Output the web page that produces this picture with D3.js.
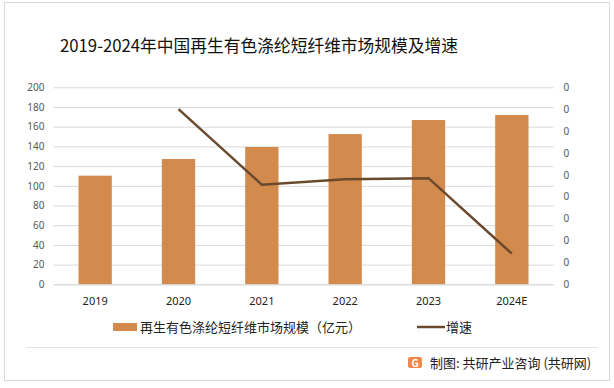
<!DOCTYPE html>
<html>
<head>
<meta charset="utf-8">
<script src="https://cdn.jsdelivr.net/npm/d3@7"></script>
<style>
  body { margin: 0; background: #fff; }
  svg { display: block; font-family: "Noto Sans CJK SC", "Noto Sans", sans-serif; }
</style>
</head>
<body>
<svg id="chart"></svg>
<script>
// 데이터
const years = ["2019", "2020", "2021", "2022", "2023", "2024E"];
const scale = [110.3, 127.2, 139.4, 152.5, 166.8, 171.9];   // 亿元
const growth = [null, 0.160, 0.091, 0.096, 0.097, 0.028];
const leftTicks = d3.range(0, 201, 20);
const rightTicks = d3.range(0, 0.181, 0.02);

const width = 614, height = 388;
const svg = d3.select("#chart").attr("width", width).attr("height", height);

// 바깥 테두리
svg.append("rect")
   .attr("x", 4.5).attr("y", 2.5)
   .attr("width", 605).attr("height", 378)
   .attr("fill", "#fff")
   .attr("stroke", "#d9d9d9");

// 제목
svg.append("text")
   .attr("x", 60).attr("y", 52)
   .attr("font-size", 17)
   .attr("textLength", 398)
   .attr("lengthAdjust", "spacingAndGlyphs")
   .attr("fill", "#111")
   .text("2019-2024年中国再生有色涤纶短纤维市场规模及增速");

const x = d3.scaleBand(years, [53.5, 553.5]).paddingInner(0.6).paddingOuter(0.3);
const yL = d3.scaleLinear([0, 200], [284.3, 87.3]);
const yR = d3.scaleLinear([0, 0.18], [284.3, 87.3]);

// 격자선 + 왼쪽 축
svg.append("g")
   .attr("transform", "translate(53.5,0)")
   .call(d3.axisLeft(yL).tickValues(leftTicks).tickSize(0).tickPadding(9))
   .call(g => g.select(".domain").remove())
   .call(g => g.selectAll(".tick line").attr("x2", 500).attr("stroke", "#d9d9d9"))
   .call(g => g.selectAll(".tick text").attr("fill", "#595959").attr("font-size", 10)
               .attr("font-family", "Noto Sans, sans-serif"));

// 오른쪽 축 (숫자 형식이 0으로 표시됨)
svg.append("g")
   .attr("transform", "translate(553.5,0)")
   .call(d3.axisRight(yR).tickValues(rightTicks).tickSize(0).tickPadding(10).tickFormat(d3.format(".0f")))
   .call(g => g.select(".domain").remove())
   .call(g => g.selectAll(".tick text").attr("fill", "#595959").attr("font-size", 10)
               .attr("font-family", "Noto Sans, sans-serif"));

// 막대
svg.append("g")
   .selectAll("rect")
   .data(years)
   .join("rect")
   .attr("x", d => x(d))
   .attr("y", (d, i) => yL(scale[i]))
   .attr("width", x.bandwidth())
   .attr("height", (d, i) => yL(0) - yL(scale[i]))
   .attr("fill", "#d38b4d");

// x축
svg.append("g")
   .attr("transform", "translate(0,284.3)")
   .call(d3.axisBottom(x).tickSize(0).tickPadding(13))
   .call(g => g.select(".domain").attr("stroke", "#d9d9d9"))
   .call(g => g.selectAll(".tick text").attr("fill", "#222").attr("font-size", 11)
               .attr("font-family", "Noto Sans, sans-serif"));

// 증속 선
const line = d3.line()
   .defined(d => d[1] != null)
   .x(d => x(d[0]) + x.bandwidth() / 2)
   .y(d => yR(d[1]));

svg.append("path")
   .datum(years.map((d, i) => [d, growth[i]]))
   .attr("d", line)
   .attr("fill", "none")
   .attr("stroke", "#6a4a2f")
   .attr("stroke-width", 2.5);

// 범례
const legend = svg.append("g").attr("font-size", 13).attr("fill", "#222");
legend.append("rect").attr("x", 113).attr("y", 323).attr("width", 24).attr("height", 8).attr("fill", "#d38b4d");
legend.append("text").attr("x", 140).attr("y", 332).attr("fill", "#222").text("再生有色涤纶短纤维市场规模（亿元）");
legend.append("line").attr("x1", 417).attr("x2", 445).attr("y1", 327).attr("y2", 327)
      .attr("stroke", "#6a4a2f").attr("stroke-width", 2.5);
legend.append("text").attr("x", 446).attr("y", 332).attr("fill", "#222").text("增速");

// 하단 구분선
svg.append("line")
   .attr("x1", 26).attr("x2", 598).attr("y1", 347.5).attr("y2", 347.5)
   .attr("stroke", "#e3e3e3");

// 출처 아이콘
const icon = svg.append("g").attr("transform", "translate(408,357)");
icon.append("rect").attr("width", 14).attr("height", 11).attr("rx", 2).attr("fill", "#f08a4b");
icon.append("text").attr("x", 7).attr("y", 9.5).attr("text-anchor", "middle")
    .attr("font-size", 10).attr("font-weight", "bold").attr("fill", "#fff").text("G");

svg.append("text")
   .attr("x", 430).attr("y", 368)
   .attr("font-size", 13)
   .attr("fill", "#222")
   .text("制图: 共研产业咨询 (共研网)");
</script>
</body>
</html>
